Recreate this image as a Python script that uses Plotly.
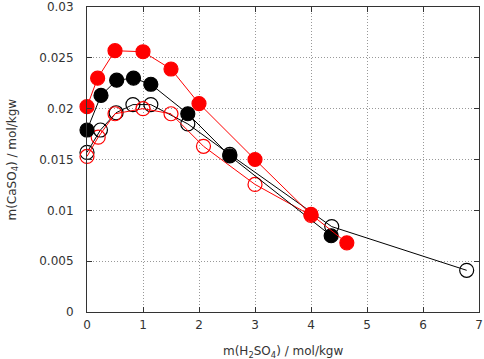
import plotly.graph_objects as go

red_filled_x = [0.0, 0.19, 0.5, 1.0, 1.5, 2.0, 3.0, 4.0, 4.64]
red_filled_y = [0.0202, 0.0230, 0.0257, 0.0256, 0.0239, 0.0205, 0.0150, 0.0096, 0.0068]

black_filled_x = [0.0, 0.25, 0.53, 0.83, 1.14, 1.80, 2.55, 4.36]
black_filled_y = [0.0179, 0.0213, 0.0228, 0.0230, 0.0224, 0.0195, 0.01535, 0.0075]

black_open_x = [0.0, 0.24, 0.52, 0.82, 1.14, 1.80, 2.55, 4.37, 6.78]
black_open_y = [0.0157, 0.0179, 0.0196, 0.0204, 0.0204, 0.0185, 0.0155, 0.0084, 0.0041]

red_open_x = [0.0, 0.20, 0.5, 1.0, 1.5, 2.08, 3.0, 4.0]
red_open_y = [0.0153, 0.0172, 0.0195, 0.0200, 0.0195, 0.0163, 0.01255, 0.0095]

x_ticks = [0, 1, 2, 3, 4, 5, 6, 7]
y_ticks = [0, 0.005, 0.01, 0.015, 0.02, 0.025, 0.03]
y_tick_labels = ["0", "0.005", "0.01", "0.015", "0.02", "0.025", "0.03"]

x_title = "m(H<sub>2</sub>SO<sub>4</sub>) / mol/kgw"
y_title = "m(CaSO<sub>4</sub>) / mol/kgw"

fig = go.Figure()

def add(xs, ys, color, filled):
    fig.add_trace(go.Scatter(
        x=xs, y=ys, mode="lines+markers",
        line=dict(color=color, width=1),
        marker=dict(
            symbol="circle" if filled else "circle-open",
            size=14, color=color,
            line=dict(color=color, width=1.2),
        ),
        showlegend=False, cliponaxis=False,
    ))

add(black_open_x, black_open_y, "black", False)
add(red_open_x, red_open_y, "red", False)
add(black_filled_x, black_filled_y, "black", True)
add(red_filled_x, red_filled_y, "red", True)

axis_common = dict(
    showline=True, linecolor="#333", linewidth=1, mirror="allticks",
    ticks="inside", ticklen=5, tickcolor="#333",
    showgrid=True, gridcolor="#999", griddash="1px,2px", gridwidth=1,
    zeroline=False, automargin=False,
    tickfont=dict(family="DejaVu Sans", size=12, color="#333"),
)

fig.update_xaxes(range=[0, 7], tickvals=x_ticks, ticklabelstandoff=2, **axis_common)
fig.update_yaxes(range=[0, 0.03], tickvals=y_ticks, ticktext=y_tick_labels,
                 ticklabelstandoff=10, **axis_common)

title_font = dict(family="DejaVu Sans", size=12, color="#333")
fig.add_annotation(text=x_title, xref="paper", yref="paper",
                   x=0.5, y=-0.13, xanchor="center", yanchor="middle",
                   showarrow=False, font=title_font)
fig.add_annotation(text=y_title, xref="paper", yref="paper",
                   x=(12 - 87) / 392, y=0.5, xanchor="center", yanchor="middle",
                   textangle=-90, showarrow=False, font=title_font)

fig.update_layout(
    width=484, height=359,
    margin=dict(l=87, r=5, t=7, b=47),
    plot_bgcolor="white", paper_bgcolor="white",
)

fig.write_html("out.html", config={"displayModeBar": False},
               post_script="document.body.style.margin='0';")
